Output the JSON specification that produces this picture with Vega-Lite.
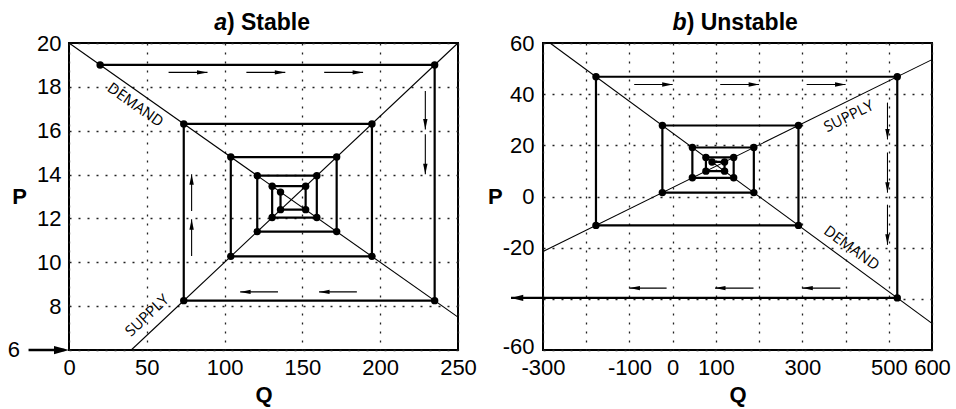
{
  "$schema": "https://vega.github.io/schema/vega-lite/v6.json",
  "background": "white",
  "padding": {"left": 6, "top": 11, "right": 5, "bottom": 3},
  "spacing": 8,
  "config": {
    "view": {"stroke": "black", "strokeWidth": 2},
    "axis": {
      "labelFont": "Liberation Sans", "labelFontSize": 22, "labelColor": "black",
      "titleFont": "Liberation Sans", "titleFontSize": 22, "titleFontWeight": "bold", "titleColor": "black",
      "ticks": false, "domain": false, "grid": true, "labelOverlap": false, "labelFlush": false, "labelBound": false,
      "gridColor": "#222", "gridDash": [2, 7], "gridWidth": 1.3, "gridOpacity": 1
    },
    "text": {"font": "Liberation Sans", "color": "black"}
  },
  "datasets": {
    "lines_a": [
      {"curve": "demand", "Q": 0, "P": 20}, {"curve": "demand", "Q": 250, "P": 7.5},
      {"curve": "supply", "Q": 40, "P": 6}, {"curve": "supply", "Q": 250, "P": 20}
    ],
    "cobweb_a": [
      {"step": 0, "Q": 20, "P": 19}, {"step": 1, "Q": 235, "P": 19},
      {"step": 2, "Q": 235, "P": 8.25}, {"step": 3, "Q": 73.75, "P": 8.25},
      {"step": 4, "Q": 73.75, "P": 16.31}, {"step": 5, "Q": 194.69, "P": 16.31},
      {"step": 6, "Q": 194.69, "P": 10.27}, {"step": 7, "Q": 103.98, "P": 10.27},
      {"step": 8, "Q": 103.98, "P": 14.8}, {"step": 9, "Q": 172.02, "P": 14.8},
      {"step": 10, "Q": 172.02, "P": 11.4}, {"step": 11, "Q": 120.98, "P": 11.4},
      {"step": 12, "Q": 120.98, "P": 13.95}, {"step": 13, "Q": 159.26, "P": 13.95},
      {"step": 14, "Q": 159.26, "P": 12.04}, {"step": 15, "Q": 130.56, "P": 12.04},
      {"step": 16, "Q": 130.56, "P": 13.47}, {"step": 17, "Q": 152.08, "P": 13.47},
      {"step": 18, "Q": 152.08, "P": 12.4}, {"step": 19, "Q": 135.94, "P": 12.4},
      {"step": 20, "Q": 135.94, "P": 13.2}
    ],
    "arrows_a": [
      {"Q": 64, "P": 18.66, "Q2": 89, "P2": 18.66, "dir": "right"},
      {"Q": 114, "P": 18.66, "Q2": 139, "P2": 18.66, "dir": "right"},
      {"Q": 164, "P": 18.66, "Q2": 189, "P2": 18.66, "dir": "right"},
      {"Q": 229, "P": 17.81, "Q2": 229, "P2": 16.06, "dir": "down"},
      {"Q": 229, "P": 15.84, "Q2": 229, "P2": 14.01, "dir": "down"},
      {"Q": 134.3, "P": 8.65, "Q2": 110, "P2": 8.65, "dir": "left"},
      {"Q": 185, "P": 8.65, "Q2": 160.7, "P2": 8.65, "dir": "left"},
      {"Q": 78.8, "P": 10.29, "Q2": 78.8, "P2": 11.96, "dir": "up"},
      {"Q": 78.8, "P": 12.34, "Q2": 78.8, "P2": 14.01, "dir": "up"}
    ],
    "big_a": [{"Q": -26, "P": 6, "Q2": -3, "P2": 6, "Qh": 0}],
    "notes_a": [
      {"label": "DEMAND", "Q": 42.7, "P": 17.18},
      {"label": "SUPPLY", "Q": 50.1, "P": 7.58}
    ],
    "titles_a": [{"italic": "a", "rest": ") Stable", "Q": 101.5, "P": 20.58}],
    "six_a": [{"label": "6", "Q": -31.5, "P": 6}],
    "lines_b": [
      {"curve": "demand", "Q": -283.9, "P": 60}, {"curve": "demand", "Q": 600, "P": -49.6},
      {"curve": "supply", "Q": -300, "P": -21.5}, {"curve": "supply", "Q": 600, "P": 53.5}
    ],
    "cobweb_b": [
      {"step": 0, "Q": 91.07, "P": 13.51}, {"step": 1, "Q": 120.08, "P": 13.51},
      {"step": 2, "Q": 120.08, "P": 9.91}, {"step": 3, "Q": 76.92, "P": 9.91},
      {"step": 4, "Q": 76.92, "P": 15.26}, {"step": 5, "Q": 141.14, "P": 15.26},
      {"step": 6, "Q": 141.14, "P": 7.3}, {"step": 7, "Q": 45.58, "P": 7.3},
      {"step": 8, "Q": 45.58, "P": 19.15}, {"step": 9, "Q": 187.78, "P": 19.15},
      {"step": 10, "Q": 187.78, "P": 1.52}, {"step": 11, "Q": -23.81, "P": 1.52},
      {"step": 12, "Q": -23.81, "P": 27.75}, {"step": 13, "Q": 291.02, "P": 27.75},
      {"step": 14, "Q": 291.02, "P": -11.29}, {"step": 15, "Q": -177.44, "P": -11.29},
      {"step": 16, "Q": -177.44, "P": 46.8}, {"step": 17, "Q": 519.64, "P": 46.8},
      {"step": 18, "Q": 519.64, "P": -39.64}, {"step": 19, "Q": -374, "P": -39.64}
    ],
    "arrows_b": [
      {"Q": -89, "P": 43.8, "Q2": 0, "P2": 43.8, "dir": "right"},
      {"Q": 110, "P": 43.8, "Q2": 200, "P2": 43.8, "dir": "right"},
      {"Q": 310, "P": 43.8, "Q2": 400, "P2": 43.8, "dir": "right"},
      {"Q": 497, "P": 36.7, "Q2": 497, "P2": 22.3, "dir": "down"},
      {"Q": 497, "P": 17.2, "Q2": 497, "P2": 1.5, "dir": "down"},
      {"Q": 497, "P": -3.2, "Q2": 497, "P2": -18.9, "dir": "down"},
      {"Q": -14, "P": -35.8, "Q2": -100, "P2": -35.8, "dir": "left"},
      {"Q": 187, "P": -35.8, "Q2": 98, "P2": -35.8, "dir": "left"},
      {"Q": 388, "P": -35.8, "Q2": 300, "P2": -35.8, "dir": "left"}
    ],
    "notes_b": [
      {"label": "SUPPLY", "Q": 407.3, "P": 31.4},
      {"label": "DEMAND", "Q": 414.3, "P": -20.1}
    ],
    "titles_b": [{"italic": "b", "rest": ") Unstable", "Q": 32.3, "P": 64.97}]
  },
  "hconcat": [
    {
      "width": 389,
      "height": 307,
      "encoding": {
        "x": {"field": "Q", "type": "quantitative",
          "scale": {"domain": [0, 250], "nice": false, "zero": false},
          "axis": {"values": [0, 50, 100, 150, 200, 250], "title": "Q", "labelPadding": 7, "titlePadding": 6}},
        "y": {"field": "P", "type": "quantitative",
          "scale": {"domain": [6, 20], "nice": false, "zero": false},
          "axis": {"values": [6, 8, 10, 12, 14, 16, 18, 20], "labelExpr": "datum.value == 6 ? '' : datum.label",
            "title": "P", "titleAngle": 0, "titleAlign": "right", "titleBaseline": "middle", "titlePadding": 10, "labelPadding": 8}}
      },
      "layer": [
        {"data": {"name": "lines_a"}, "mark": {"type": "line", "color": "black", "strokeWidth": 1.1},
          "encoding": {"detail": {"field": "curve"}}},
        {"data": {"name": "cobweb_a"}, "mark": {"type": "line", "color": "black", "strokeWidth": 2.2},
          "encoding": {"order": {"field": "step"}}},
        {"data": {"name": "cobweb_a"}, "mark": {"type": "point", "filled": true, "color": "black", "opacity": 1, "size": 55}},
        {"data": {"name": "arrows_a"}, "mark": {"type": "rule", "color": "black", "strokeWidth": 1.1},
          "encoding": {"x2": {"field": "Q2"}, "y2": {"field": "P2"}}},
        {"data": {"name": "arrows_a"}, "mark": {"type": "point", "filled": true, "color": "black", "opacity": 1, "size": 110, "strokeWidth": 0},
          "encoding": {"x": {"field": "Q2", "type": "quantitative"}, "y": {"field": "P2", "type": "quantitative"},
            "shape": {"field": "dir", "type": "nominal", "legend": null,
              "scale": {"domain": ["right", "down", "left", "up"],
                "range": ["M0,0L-2,-0.42L-2,0.42Z", "M0,0L-0.42,-2L0.42,-2Z", "M0,0L2,-0.42L2,0.42Z", "M0,0L-0.42,2L0.42,2Z"]}}}},
        {"data": {"name": "big_a"}, "mark": {"type": "rule", "color": "black", "strokeWidth": 2.6},
          "encoding": {"x2": {"field": "Q2"}, "y2": {"field": "P2"}}},
        {"data": {"name": "big_a"}, "mark": {"type": "point", "filled": true, "color": "black", "opacity": 1, "size": 225, "strokeWidth": 0, "shape": "M0,0L-2,-0.55L-2,0.55Z"},
          "encoding": {"x": {"field": "Qh", "type": "quantitative"}}},
        {"data": {"name": "six_a"}, "mark": {"type": "text", "fontSize": 22, "align": "right", "baseline": "middle"},
          "encoding": {"text": {"field": "label"}}},
        {"data": {"name": "notes_a"}, "transform": [{"filter": "datum.label == 'DEMAND'"}],
          "mark": {"type": "text", "font": "Open Sans", "fontSize": 15, "angle": 35.2, "align": "center", "baseline": "middle"},
          "encoding": {"text": {"field": "label"}}},
        {"data": {"name": "notes_a"}, "transform": [{"filter": "datum.label == 'SUPPLY'"}],
          "mark": {"type": "text", "font": "Open Sans", "fontSize": 15, "angle": 316.8, "align": "center", "baseline": "middle"},
          "encoding": {"text": {"field": "label"}}},
        {"data": {"name": "titles_a"}, "mark": {"type": "text", "fontSize": 23, "fontWeight": "bold", "fontStyle": "italic", "align": "right", "baseline": "alphabetic"},
          "encoding": {"text": {"field": "italic"}}},
        {"data": {"name": "titles_a"}, "mark": {"type": "text", "fontSize": 23, "fontWeight": "bold", "align": "left", "baseline": "alphabetic"},
          "encoding": {"text": {"field": "rest"}}}
      ]
    },
    {
      "width": 389,
      "height": 307,
      "encoding": {
        "x": {"field": "Q", "type": "quantitative",
          "scale": {"domain": [-300, 600], "nice": false, "zero": false},
          "axis": {"values": [-300, -200, -100, 0, 100, 200, 300, 400, 500, 600],
            "labelExpr": "(datum.value == -200 || datum.value == 200 || datum.value == 400) ? '' : replace(datum.label, '−', '-')",
            "title": "Q", "labelPadding": 7, "titlePadding": 6}},
        "y": {"field": "P", "type": "quantitative",
          "scale": {"domain": [-60, 60], "nice": false, "zero": false},
          "axis": {"values": [-60, -40, -20, 0, 20, 40, 60], "labelExpr": "datum.value == -40 ? '' : replace(datum.label, '−', '-')",
            "labelOffset": {"condition": {"test": "datum.value == -60", "value": -4}, "value": 0},
            "title": "P", "titleAngle": 0, "titleAlign": "right", "titleBaseline": "middle", "titlePadding": 0, "labelPadding": 9}}
      },
      "layer": [
        {"data": {"name": "lines_b"}, "mark": {"type": "line", "color": "black", "strokeWidth": 1.1},
          "encoding": {"detail": {"field": "curve"}}},
        {"data": {"name": "cobweb_b"}, "mark": {"type": "line", "color": "black", "strokeWidth": 2.2},
          "encoding": {"order": {"field": "step"}}},
        {"data": {"name": "cobweb_b"}, "transform": [{"filter": "datum.step < 19"}],
          "mark": {"type": "point", "filled": true, "color": "black", "opacity": 1, "size": 55}},
        {"data": {"name": "cobweb_b"}, "transform": [{"filter": "datum.step == 19"}],
          "mark": {"type": "point", "filled": true, "color": "black", "opacity": 1, "size": 150, "strokeWidth": 0, "shape": "M0,0L2,-0.5L2,0.5Z"}},
        {"data": {"name": "arrows_b"}, "mark": {"type": "rule", "color": "black", "strokeWidth": 1.1},
          "encoding": {"x2": {"field": "Q2"}, "y2": {"field": "P2"}}},
        {"data": {"name": "arrows_b"}, "mark": {"type": "point", "filled": true, "color": "black", "opacity": 1, "size": 110, "strokeWidth": 0},
          "encoding": {"x": {"field": "Q2", "type": "quantitative"}, "y": {"field": "P2", "type": "quantitative"},
            "shape": {"field": "dir", "type": "nominal", "legend": null,
              "scale": {"domain": ["right", "down", "left", "up"],
                "range": ["M0,0L-2,-0.42L-2,0.42Z", "M0,0L-0.42,-2L0.42,-2Z", "M0,0L2,-0.42L2,0.42Z", "M0,0L-0.42,2L0.42,2Z"]}}}},
        {"data": {"name": "notes_b"}, "transform": [{"filter": "datum.label == 'SUPPLY'"}],
          "mark": {"type": "text", "font": "Open Sans", "fontSize": 15, "angle": 333.8, "align": "center", "baseline": "middle"},
          "encoding": {"text": {"field": "label"}}},
        {"data": {"name": "notes_b"}, "transform": [{"filter": "datum.label == 'DEMAND'"}],
          "mark": {"type": "text", "font": "Open Sans", "fontSize": 15, "angle": 36.2, "align": "center", "baseline": "middle"},
          "encoding": {"text": {"field": "label"}}},
        {"data": {"name": "titles_b"}, "mark": {"type": "text", "fontSize": 23, "fontWeight": "bold", "fontStyle": "italic", "align": "right", "baseline": "alphabetic"},
          "encoding": {"text": {"field": "italic"}}},
        {"data": {"name": "titles_b"}, "mark": {"type": "text", "fontSize": 23, "fontWeight": "bold", "align": "left", "baseline": "alphabetic"},
          "encoding": {"text": {"field": "rest"}}}
      ]
    }
  ]
}
